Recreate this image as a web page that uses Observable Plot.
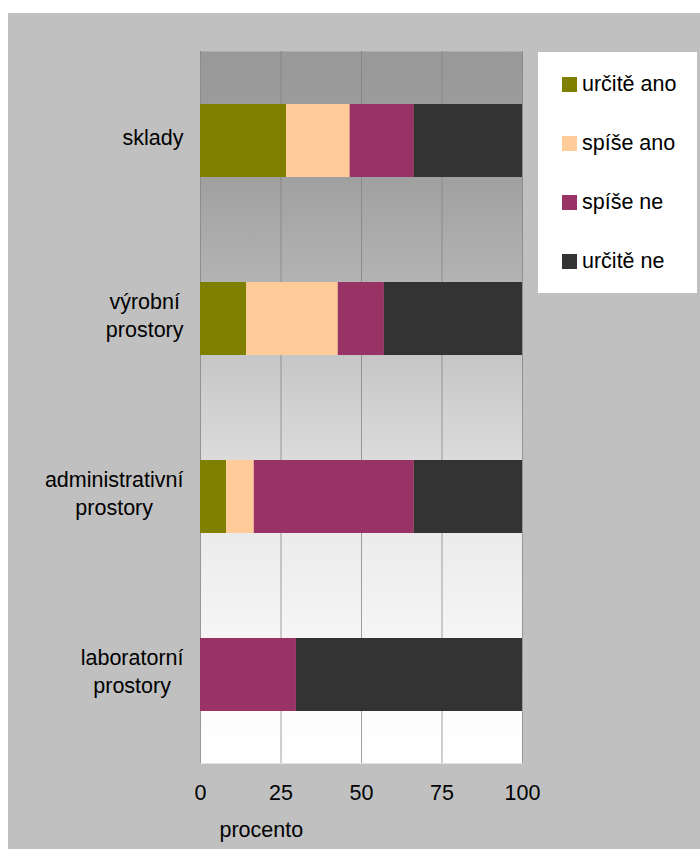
<!DOCTYPE html>
<html>
<head>
<meta charset="utf-8">
<script src="https://cdn.jsdelivr.net/npm/d3@7"></script>
<script src="https://cdn.jsdelivr.net/npm/@observablehq/plot@0.6"></script>
<style>
  html, body { margin: 0; padding: 0; background: #fff; }
  #wrap { position: relative; width: 700px; height: 849px; background: #fff; font-family: Arial, "Liberation Sans", sans-serif; }
  #chart { position: absolute; left: 8px; top: 13px; }
  #chart svg { display: block; background: #c0c0c0; }
  #legend { position: absolute; left: 538px; top: 52px; width: 159px; height: 241px; background: #fff; }
  .lrow { position: absolute; left: 24px; height: 22px; display: flex; align-items: center; font-size: 21.5px; color: #000; white-space: nowrap; }
  .lsw { width: 15px; height: 15px; margin-right: 5px; flex: none; }
</style>
</head>
<body>
<div id="wrap">
  <div id="chart"></div>
  <div id="legend"></div>
</div>
<script>
// ---- data ----
const categories = ["sklady", "výrobní prostory", "administrativní prostory", "laboratorní prostory"];
const responses = ["určitě ano", "spíše ano", "spíše ne", "určitě ne"];
const colors = ["#808000", "#FFCC99", "#993366", "#333333"];
const urciteAno = [26.7, 14.3, 8.1, 0];
const spiseAno  = [19.8, 28.5, 8.6, 0];
const spiseNe   = [19.9, 14.3, 49.7, 29.8];
const urciteNe  = [33.6, 42.9, 33.6, 70.2];
const xTicks = [0, 25, 50, 75, 100];
const xLabel = "procento";

const series = [urciteAno, spiseAno, spiseNe, urciteNe];
const rows = [];
categories.forEach((c, i) => {
  responses.forEach((r, j) => {
    rows.push({category: c, response: r, value: series[j][i]});
  });
});

const FONT = 'Arial, "Liberation Sans", sans-serif';
const FS = 21.5;

const gradientDefs = (index, scales, values, dimensions) => {
  const g = d3.create("svg:g");
  const grad = g.append("defs").append("linearGradient")
    .attr("id", "plotBg").attr("x1", 0).attr("y1", 0).attr("x2", 0).attr("y2", 1);
  const stops = [[0, "#999999"], [0.074, "#9b9b9b"], [0.176, "#a0a0a0"], [0.327, "#b4b4b4"],
                 [0.424, "#c6c6c6"], [0.576, "#dcdcdc"], [0.674, "#ebebeb"], [0.826, "#f6f6f6"],
                 [0.926, "#fdfdfd"], [1, "#ffffff"]];
  stops.forEach(([o, c]) => grad.append("stop").attr("offset", o).attr("stop-color", c));
  return g.node();
};

const chart = Plot.plot({
  width: 692,
  height: 836,
  marginLeft: 192,
  marginRight: 178,
  marginTop: 38,
  marginBottom: 86,
  style: {fontFamily: FONT, fontSize: FS + "px", color: "#000", background: "#c0c0c0"},
  x: {domain: [0, 100], ticks: xTicks, label: null},
  y: {domain: categories, paddingInner: 0.592, paddingOuter: 0.296, label: null},
  color: {domain: responses, range: colors},
  marks: [
    gradientDefs,
    Plot.frame({fill: "url(#plotBg)", stroke: null}),
    Plot.gridX(xTicks, {stroke: "#808080", strokeOpacity: 0.75, strokeWidth: 1}),
    Plot.barX(rows, Plot.stackX({x: "value", y: "category", fill: "response", order: responses, inset: 0})),
    Plot.axisX(xTicks, {tickSize: 0, tickPadding: 21, fontSize: FS, label: null, fill: "#000"}),
    Plot.axisY({tickSize: 0, tickPadding: 17, dy: -5, fontSize: FS, lineHeight: 1.33, label: null, fill: "#000",
                tickFormat: d => d.replace(" ", "\n")}),
    Plot.text([xLabel], {frameAnchor: "bottom-left", dx: 19, dy: 67, textAnchor: "start",
                         lineAnchor: "middle", fontSize: FS, fill: "#000"})
  ]
});

document.getElementById("chart").appendChild(chart);

// center multi-line category labels within their block (right-aligned block)
chart.querySelectorAll('[aria-label="y-axis tick label"] text').forEach(t => {
  const spans = t.querySelectorAll("tspan");
  if (spans.length > 1) {
    let maxW = 0;
    spans.forEach(s => { maxW = Math.max(maxW, s.getComputedTextLength()); });
    t.setAttribute("text-anchor", "middle");
    spans.forEach(s => s.setAttribute("x", -maxW / 2));
  }
});

// legend
const legend = document.getElementById("legend");
responses.forEach((r, i) => {
  const row = document.createElement("div");
  row.className = "lrow";
  row.style.top = (32 + i * 59.3 - 11) + "px";
  const sw = document.createElement("span");
  sw.className = "lsw";
  sw.style.background = colors[i];
  const tx = document.createElement("span");
  tx.textContent = r;
  row.appendChild(sw);
  row.appendChild(tx);
  legend.appendChild(row);
});
</script>
</body>
</html>
